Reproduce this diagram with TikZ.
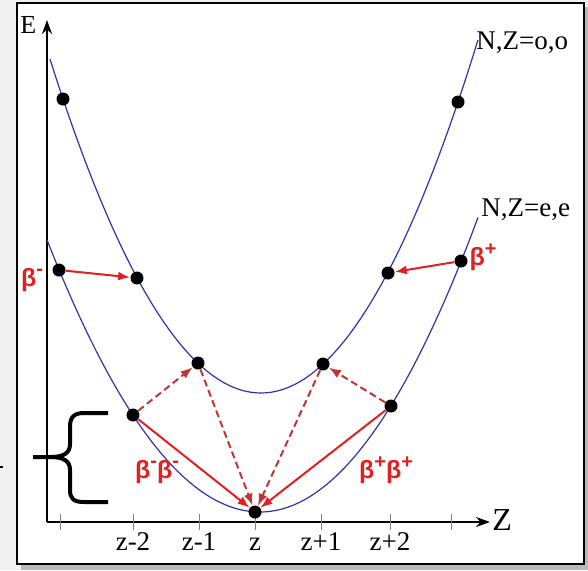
\documentclass[tikz,border=0pt]{standalone}
\usepackage{fontspec}
\setmainfont{Liberation Serif}
\newfontfamily\betafont{Liberation Sans}
\usetikzlibrary{arrows.meta}
\definecolor{decred}{RGB}{226,32,32}
\definecolor{dashred}{RGB}{192,52,52}
\definecolor{parab}{RGB}{50,50,170}
\newcommand{\bsup}[1]{\raisebox{0.42em}{\fontsize{10}{11}\selectfont #1}}

\begin{document}
\begin{tikzpicture}[x=0.5pt, y=-0.5pt,
        dot/.style={circle, fill=black, minimum size=6.5pt, inner sep=0pt},
        curve/.style={parab, line width=0.6pt},
        ax/.style={line width=1pt, -{Stealth[length=7pt,width=5pt]}},
        tick/.style={gray, line width=0.5pt},
        lbl/.style={font=\fontsize{13.5}{16}\selectfont, inner sep=0pt},
        beta/.style={decred, font=\betafont\bfseries\fontsize{12.5}{14}\selectfont, inner sep=0pt},
        dec/.style={decred, line width=1pt, -{Latex[length=6pt,width=4.5pt]}},
        decd/.style={dec, dashred, dash pattern=on 3.5pt off 2pt},
        brc/.style={line width=2pt}]

      \useasboundingbox (0,0) rectangle (588,570);

      % slide frame with shadow
      \fill[gray!12] (0,0) rectangle (588,570);
      \fill[gray!55] (21,7) rectangle (588,570);
      \draw[line width=1.2pt, fill=white] (17,3) rectangle (584,564);

      % axes
      \coordinate (orig) at (47,522);
      \coordinate (etop) at (47,20);
      \coordinate (zend) at (490,522);
      \draw[ax] (orig) -- (etop);
      \draw[ax] (orig) -- (zend);
      \node[lbl, anchor=base west, font=\fontsize{13}{15}\selectfont] (elbl) at (20,33) {E};
      \node[lbl, anchor=base west, font=\fontsize{16}{19}\selectfont] (zlbl) at (492,530) {Z};

      \foreach \x in {60,133,199,255,321,390,451}
        \draw[tick] (\x,514) -- (\x,530);
      \foreach \x/\t [count=\i] in {133/z-2, 199/z-1, 255/z, 321/z+1, 390/z+2}
        \node[lbl, anchor=base] (t\i) at (\x,550) {\t};

      % mass parabolas: odd-odd above, even-even below
      \draw[curve] plot[domain=-2.11:0, samples=40] ({261+100*\x},{393-75*\x*\x})
        -- plot[domain=0:2.17, samples=40] ({261+100*\x},{393-75*\x*\x});
      \draw[curve] plot[domain=-2.13:0, samples=40] ({260+100*\x},{512-60*\x*\x})
        -- plot[domain=0:2.18, samples=40] ({260+100*\x},{512-62*\x*\x});
      \node[lbl, anchor=base west] (oo) at (476,49) {N,Z=o,o};
      \node[lbl, anchor=base west] (ee) at (481,216) {N,Z=e,e};

      % nuclei
      \node[dot] (o1) at (63,99) {};
      \node[dot] (o2) at (137,278) {};
      \node[dot] (o3) at (198,363) {};
      \node[dot] (o4) at (323,364) {};
      \node[dot] (o5) at (388,273) {};
      \node[dot] (o6) at (458,102) {};
      \node[dot] (e1) at (59,270) {};
      \node[dot] (e2) at (133,415) {};
      \node[dot] (e3) at (255,512) {};
      \node[dot] (e4) at (391,406) {};
      \node[dot] (e5) at (461,261) {};

      % decays
      \draw[dec] (e1) -- (o2);
      \draw[dec] (e5) -- (o5);
      \draw[dec] (e2) -- (e3);
      \draw[dec] (e4) -- (e3);
      \draw[decd] (e2) -- (o3);
      \draw[decd] (o3) -- (e3);
      \draw[decd] (e4) -- (o4);
      \draw[decd] (o4) -- (e3);
      \node[beta] (bm) at (32,280) {β\bsup{-}};
      \node[beta] (bp) at (483,257) {β\bsup{+}};
      \node[beta] (bmm) at (157,472) {β\bsup{-}β\bsup{-}};
      \node[beta] (bpp) at (386,470) {β\bsup{+}β\bsup{+}};

      % brace
      \draw[brc] (108,413) -- (84,413) .. controls (74,413) and (70,417) .. (70,427)
        -- (70,444) .. controls (70,453) and (64,457) .. (50,457) -- (33,457)
        (50,457) .. controls (64,457) and (70,461) .. (70,470)
        -- (70,490) .. controls (70,499) and (74,502) .. (84,502) -- (108,502);
      \draw[line width=1pt] (0,467) -- (3,467);
    \end{tikzpicture}
\end{document}
